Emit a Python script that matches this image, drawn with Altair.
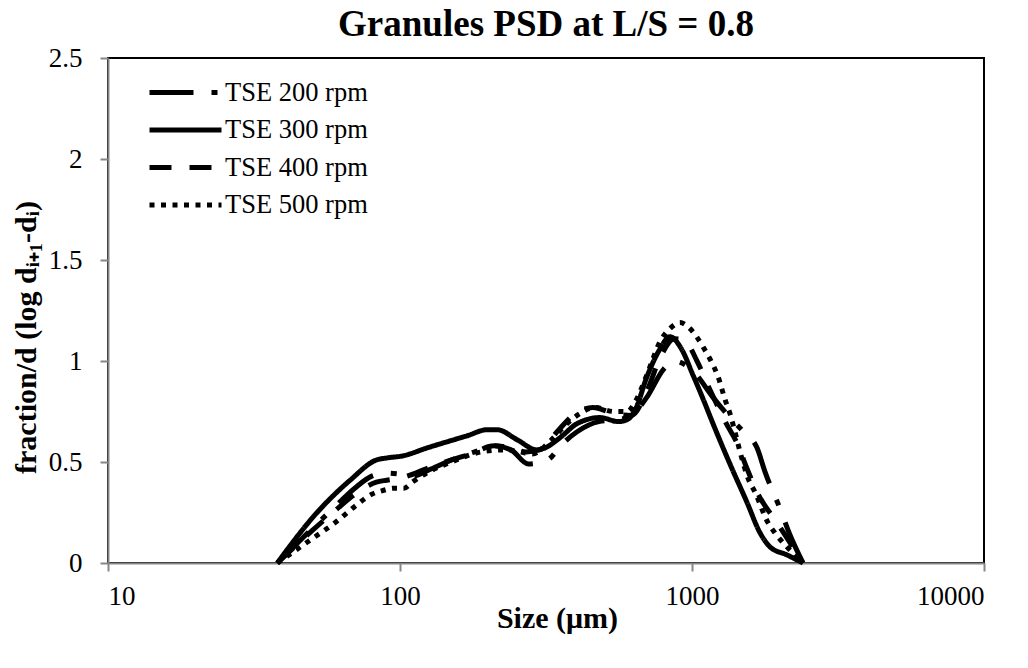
import altair as alt
import pandas as pd

series_names = ["TSE 200 rpm", "TSE 300 rpm", "TSE 400 rpm", "TSE 500 rpm"]

tse200_size = [38, 50, 60, 70, 80, 90, 100, 110, 125, 150, 180, 210, 240, 275, 320, 360, 404, 480, 560, 620, 700, 800, 870, 1008, 1180, 1349, 1500, 1670, 1780, 2000, 2150, 2400]
tse200_val = [0, 0.17, 0.28, 0.37, 0.43, 0.445, 0.44, 0.43, 0.46, 0.51, 0.55, 0.58, 0.56, 0.49, 0.51, 0.59, 0.65, 0.70, 0.71, 0.73, 0.82, 0.96, 1.00, 0.95, 0.82, 0.72, 0.65, 0.57, 0.45, 0.27, 0.15, 0]

tse300_size = [38, 52, 67.5, 83, 90, 102, 124, 170, 199, 215, 252, 294, 314, 353, 404, 484, 560, 600, 640, 700, 770, 841, 920, 1008, 1100, 1180, 1349, 1543, 1709, 1849, 2115, 2400]
tse300_val = [0, 0.25, 0.41, 0.51, 0.52, 0.53, 0.57, 0.63, 0.66, 0.66, 0.61, 0.56, 0.57, 0.62, 0.69, 0.72, 0.70, 0.71, 0.76, 0.92, 1.05, 1.12, 1.06, 0.93, 0.80, 0.69, 0.49, 0.30, 0.15, 0.08, 0.04, 0]

tse400_size = [38, 50, 60, 70, 83, 90, 100, 125, 150, 175, 210, 240, 270, 300, 350, 390, 458, 540, 620, 700, 780, 870, 946, 1040, 1150, 1300, 1440, 1540, 1700, 1955, 2168, 2400]
tse400_val = [0, 0.16, 0.26, 0.34, 0.40, 0.41, 0.42, 0.47, 0.51, 0.54, 0.58, 0.57, 0.55, 0.56, 0.66, 0.73, 0.77, 0.74, 0.73, 0.85, 1.02, 1.11, 1.10, 1.00, 0.86, 0.70, 0.58, 0.47, 0.33, 0.20, 0.10, 0]

tse500_size = [38, 50, 60, 70, 80, 88, 95, 103, 110, 125, 150, 190, 230, 258, 284, 330, 373, 413, 465, 540, 600, 640, 700, 780, 840, 910, 968, 1037, 1091, 1171, 1230, 1297, 1349, 1403, 1480, 1555, 1644, 1820, 1922, 2113, 2215, 2400]
tse500_val = [0, 0.12, 0.20, 0.28, 0.34, 0.36, 0.37, 0.37, 0.40, 0.45, 0.50, 0.55, 0.56, 0.55, 0.54, 0.61, 0.69, 0.74, 0.77, 0.75, 0.75, 0.80, 0.93, 1.10, 1.16, 1.19, 1.17, 1.12, 1.07, 0.99, 0.92, 0.81, 0.74, 0.65, 0.52, 0.42, 0.35, 0.20, 0.15, 0.08, 0.05, 0]

x_ticks = [10, 100, 1000, 10000]
y_ticks = [0, 0.5, 1, 1.5, 2, 2.5]

rows = []
for name, sizes, vals in [
    (series_names[0], tse200_size, tse200_val),
    (series_names[1], tse300_size, tse300_val),
    (series_names[2], tse400_size, tse400_val),
    (series_names[3], tse500_size, tse500_val),
]:
    for i, (s, v) in enumerate(zip(sizes, vals)):
        rows.append({"series": name, "size": s, "value": v, "order": i})
df = pd.DataFrame(rows)

FONT = "Liberation Serif"
GRAY = "#868686"

dash_range = [[44, 18, 6, 18], [1, 0], [22, 18], [5, 6.5]]

chart = alt.Chart(df).mark_line(
    color="black", strokeWidth=5, strokeCap="butt", strokeJoin="round", interpolate="monotone"
).encode(
    x=alt.X("size:Q",
            scale=alt.Scale(type="log", domain=[10, 10000], nice=False),
            axis=alt.Axis(values=x_ticks, format="d", title="Size (μm)",
                          titleX=449, titleY=55, titleBaseline="middle")),
    y=alt.Y("value:Q",
            scale=alt.Scale(domain=[0, 2.5], nice=False),
            axis=alt.Axis(values=y_ticks, format="~g",
                          title="fraction/d (log dᵢ₊₁-dᵢ)",
                          titleX=-82, titleY=279, titleBaseline="middle", titleAngle=-90,
                          labelPadding=18)),
    strokeDash=alt.StrokeDash("series:N",
                              scale=alt.Scale(domain=series_names, range=dash_range),
                              legend=alt.Legend(
                                  title=None, orient="none", legendX=63, legendY=20,
                                  symbolType="M-3,0L3,0", symbolSize=576, symbolStrokeWidth=5,
                                  symbolStrokeColor="black", symbolFillColor="transparent",
                                  labelFont=FONT, labelFontSize=26.5, labelColor="black",
                                  labelOffset=25, rowPadding=9.5, padding=0,
                              )),
    detail="series:N",
    order="order:Q",
).properties(
    width=876,
    height=505,
    autosize=alt.AutoSizeParams(type="none"),
    padding={"left": 108, "top": 58, "right": 44, "bottom": 105},
    title=alt.TitleParams("Granules PSD at L/S = 0.8", font=FONT, fontSize=37,
                          fontWeight="bold", color="black", anchor="middle",
                          frame="group", offset=-29, baseline="alphabetic"),
).configure_view(
    stroke="black", strokeWidth=2
).configure_axis(
    domainColor=GRAY, domainWidth=2, tickColor=GRAY, tickWidth=2, tickSize=8,
    grid=False, labelFont=FONT, labelFontSize=27, labelColor="black",
    titleFont=FONT, titleFontSize=30, titleFontWeight="bold", titleColor="black",
).configure_axisX(
    labelPadding=12
)

chart.save("out.html", embed_options={"renderer": "svg", "actions": False})
